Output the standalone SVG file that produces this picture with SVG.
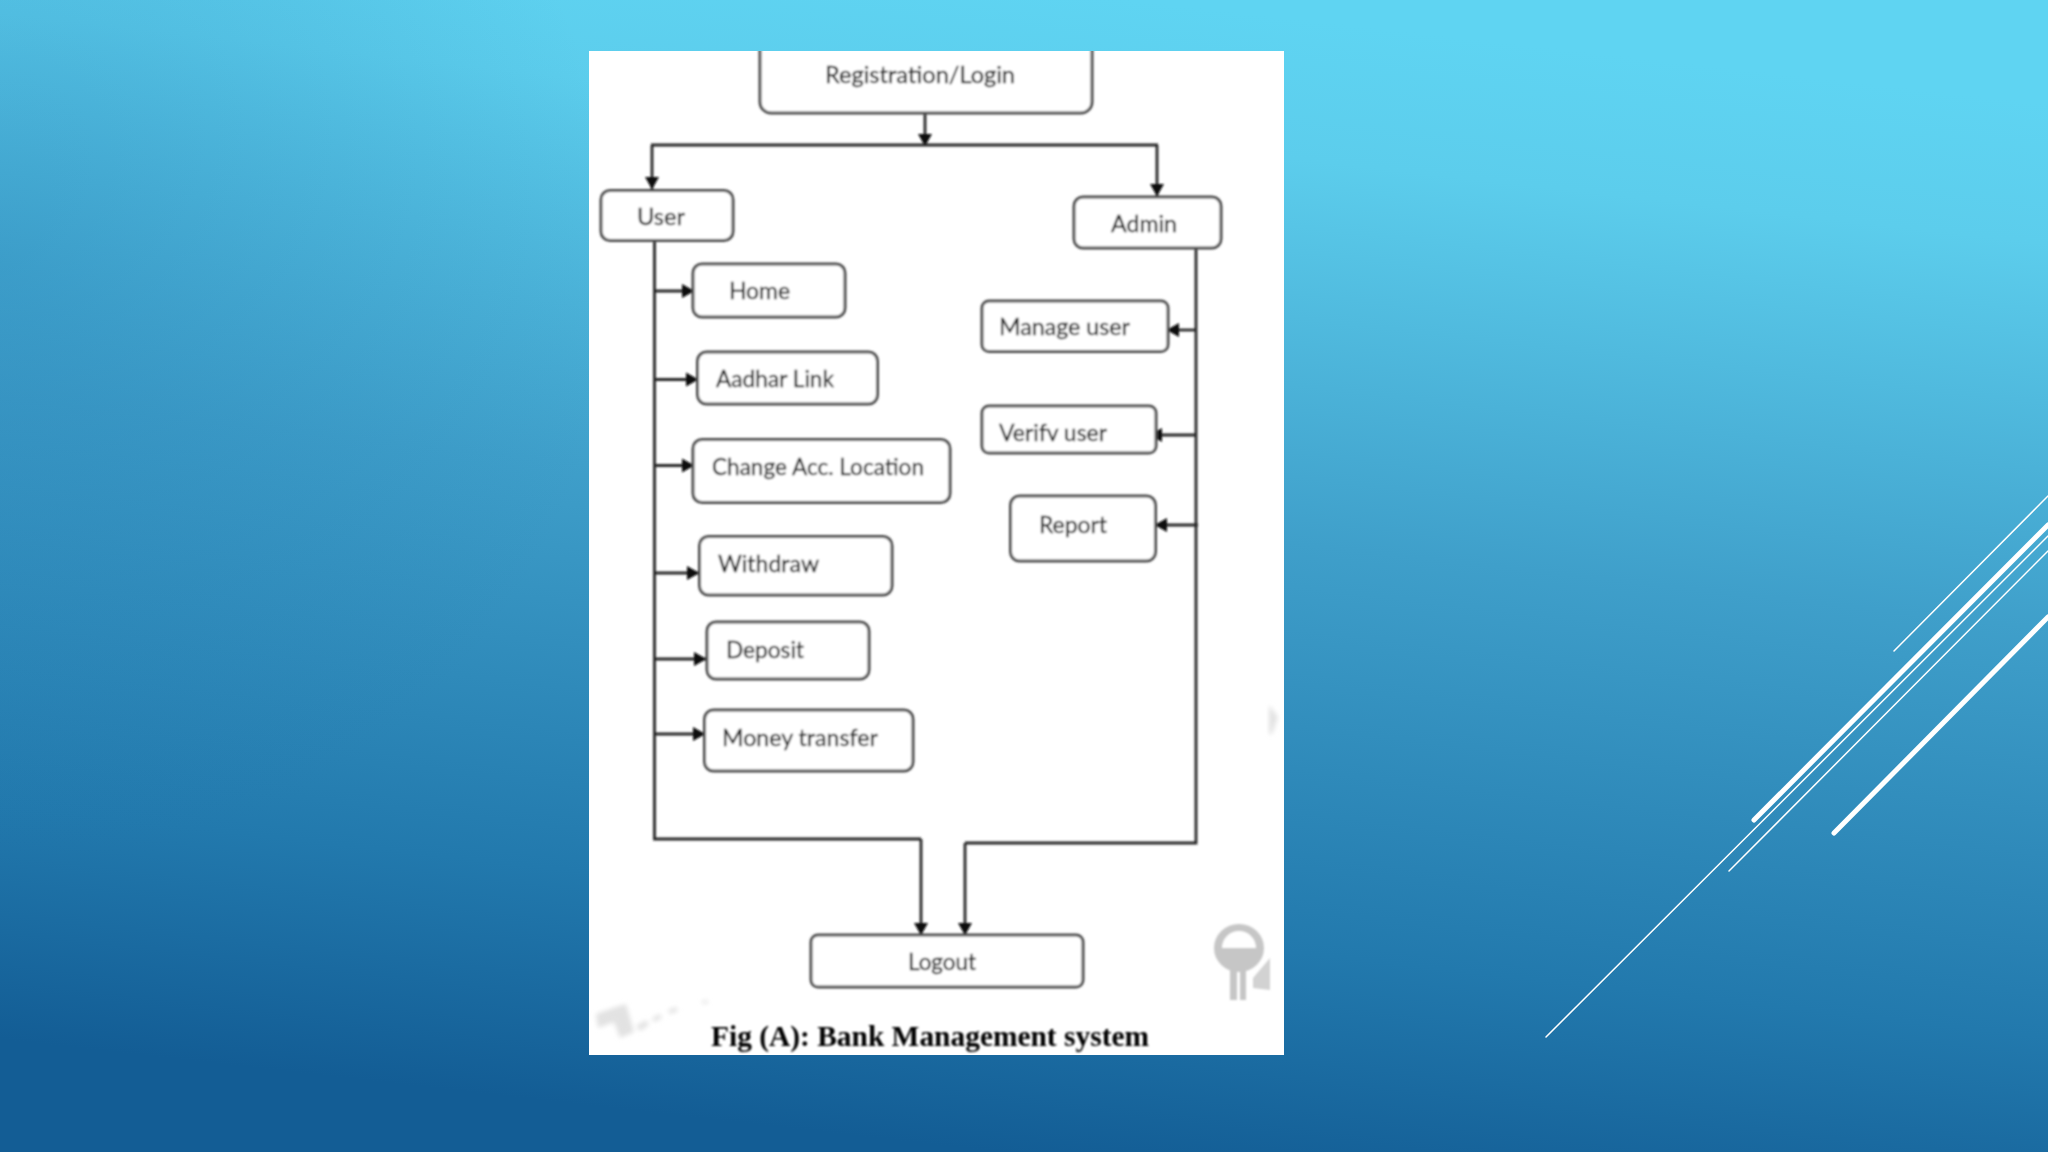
<svg xmlns="http://www.w3.org/2000/svg" width="2048" height="1152" viewBox="0 0 2048 1152">
<defs>
<linearGradient id="bg" gradientUnits="userSpaceOnUse" x1="1130" y1="0" x2="1000" y2="1152">
<stop offset="0" stop-color="#5fd4f2"/><stop offset="0.12" stop-color="#5ccdec"/><stop offset="0.45" stop-color="#3f9fca"/><stop offset="0.8" stop-color="#2279ad"/><stop offset="1" stop-color="#135d95"/>
</linearGradient>
<radialGradient id="shade" gradientUnits="userSpaceOnUse" cx="0" cy="260" r="620">
<stop offset="0" stop-color="#1a6ea8" stop-opacity="0.28"/><stop offset="1" stop-color="#1a6ea8" stop-opacity="0"/>
</radialGradient>
<filter id="soft" x="-5%" y="-5%" width="110%" height="110%"><feGaussianBlur stdDeviation="0.8"/></filter>
<filter id="wm" x="-20%" y="-20%" width="140%" height="140%"><feGaussianBlur stdDeviation="2"/></filter>
<marker id="ah" markerUnits="userSpaceOnUse" markerWidth="14" markerHeight="16" refX="12" refY="7.500" orient="auto"><path d="M0 0.500L12.500 7.500L0 14.500Z" fill="#111"/></marker>
<clipPath id="card"><rect x="589" y="51" width="695" height="1004"/></clipPath>
</defs>
<style>
.box{fill:#fff;stroke:#4d4d4d;stroke-width:3}
.lbl{font-family:"Lato","Open Sans",sans-serif;font-size:24px;fill:#1c1c1c;stroke:#1c1c1c;stroke-width:0.300}
.cap{font-family:"Liberation Serif",serif;font-size:30px;font-weight:bold;fill:#000}
.c{fill:none;stroke:#262626;stroke-width:2.800}
.a{marker-end:url(#ah)}
.deco{stroke:#fff;stroke-linecap:round;fill:none}
</style>
<rect id="background" width="2048" height="1152" fill="url(#bg)"/>
<rect id="background-shade" width="2048" height="1152" fill="url(#shade)"/>
<g id="decoration">
<line class="deco" stroke-width="1.500" x1="1894" y1="651" x2="2048" y2="496"/>
<line class="deco" stroke-width="5" x1="1754" y1="820" x2="2048" y2="525"/>
<line class="deco" stroke-width="1.500" x1="1546" y1="1037" x2="2048" y2="536"/>
<line class="deco" stroke-width="1.500" x1="1729" y1="871" x2="2048" y2="551"/>
<line class="deco" stroke-width="5" x1="1834" y1="833" x2="2048" y2="617"/>
</g>
<rect id="card-bg" x="589" y="51" width="695" height="1004" fill="#fff"/>
<g id="diagram" clip-path="url(#card)">
<g filter="url(#soft)">
<g id="watermarks">
<ellipse cx="1239" cy="948" rx="25" ry="24" fill="#c6c6c6"/>
<path d="M1222 948a17 17 0 0 1 34 0z" fill="#fff"/>
<path d="M1230 968h7v32h-7zM1240 968h6v32h-6z" fill="#c6c6c6"/>
<path d="M1270 958v32l-17 -2v-10z" fill="#d2d2d2"/>
<path d="M1269 705l9 12l-6 17h-3z" fill="#e2e2e2" filter="url(#wm)"/>
<path d="M596 1014l20 -7l10 -3l8 28l-14 6l-6 -16l-16 6z" fill="#e2e2e2" filter="url(#wm)"/>
<path d="M636 1026l10 -6l3 5l-9 6zM652 1018l8 -4l2 4l-8 4zM668 1010l8 -3l2 4l-8 3zM702 1001l6 -1v3l-6 1z" fill="#e2e2e2" filter="url(#wm)"/>
</g>
<g id="connectors">
<path class="c a" d="M925 105V146"/>
<path class="c" d="M651 145H1158"/>
<path class="c a" d="M652 145V189"/>
<path class="c a" d="M1157 145V196"/>
<path class="c" d="M654.500 240V839H921"/>
<path class="c a" d="M921 839V935"/>
<path class="c" d="M1196 248V843H965"/>
<path class="c a" d="M965 843V935"/>
<path class="c a" d="M654 291H694"/>
<path class="c a" d="M654 379.500H698"/>
<path class="c a" d="M654 465.500H694"/>
<path class="c a" d="M654 573H699"/>
<path class="c a" d="M654 659H706"/>
<path class="c a" d="M654 734H705"/>
<path class="c a" d="M1196 330H1167"/>
<path class="c a" d="M1196 435H1150"/>
<path class="c a" d="M1198 525H1155"/>
</g>
<g id="n-registration"><rect class="box" x="760" y="30" width="332" height="83" rx="11"/><text class="lbl" x="825" y="83" textLength="190" lengthAdjust="spacingAndGlyphs">Registration/Login</text></g>
<g id="n-user"><rect class="box" x="601" y="190.500" width="132" height="50" rx="9"/><text class="lbl" x="637" y="225" textLength="48" lengthAdjust="spacingAndGlyphs">User</text></g>
<g id="n-admin"><rect class="box" x="1074" y="197" width="147" height="51" rx="9"/><text class="lbl" x="1111" y="232" textLength="66" lengthAdjust="spacingAndGlyphs">Admin</text></g>
<g id="n-home"><rect class="box" x="693" y="264" width="152" height="53" rx="9"/><text class="lbl" x="729" y="299" textLength="61" lengthAdjust="spacingAndGlyphs">Home</text></g>
<g id="n-aadhar"><rect class="box" x="697.500" y="352" width="180" height="52" rx="9"/><text class="lbl" x="716" y="387" textLength="118" lengthAdjust="spacingAndGlyphs">Aadhar Link</text></g>
<g id="n-change"><rect class="box" x="693" y="439.500" width="257" height="63" rx="9"/><text class="lbl" x="712" y="475" textLength="212" lengthAdjust="spacingAndGlyphs">Change Acc. Location</text></g>
<g id="n-withdraw"><rect class="box" x="699.500" y="536.500" width="192.500" height="58.500" rx="9"/><text class="lbl" x="718" y="572" textLength="101" lengthAdjust="spacingAndGlyphs">Withdraw</text></g>
<g id="n-deposit"><rect class="box" x="707" y="622" width="162" height="57" rx="9"/><text class="lbl" x="726" y="658" textLength="78" lengthAdjust="spacingAndGlyphs">Deposit</text></g>
<g id="n-money"><rect class="box" x="704.500" y="710" width="208.500" height="61" rx="9"/><text class="lbl" x="722" y="746" textLength="156" lengthAdjust="spacingAndGlyphs">Money transfer</text></g>
<g id="n-manage"><rect class="box" x="982" y="301" width="186" height="50.500" rx="7"/><text class="lbl" x="999" y="335" textLength="131" lengthAdjust="spacingAndGlyphs">Manage user</text></g>
<g id="n-verify"><rect class="box" x="982" y="406" width="174" height="47" rx="7"/><text class="lbl" x="999" y="441" textLength="108" lengthAdjust="spacingAndGlyphs">Verifv user</text></g>
<g id="n-report"><rect class="box" x="1010.500" y="496" width="145" height="65" rx="9"/><text class="lbl" x="1039" y="533" textLength="68" lengthAdjust="spacingAndGlyphs">Report</text></g>
<g id="n-logout"><rect class="box" x="811" y="935" width="272" height="52" rx="7"/><text class="lbl" x="908" y="970" textLength="68" lengthAdjust="spacingAndGlyphs">Logout</text></g>
<text id="caption" class="cap" x="711" y="1046" textLength="438" lengthAdjust="spacingAndGlyphs">Fig (A): Bank Management system</text>
</g>
</g>
</svg>
